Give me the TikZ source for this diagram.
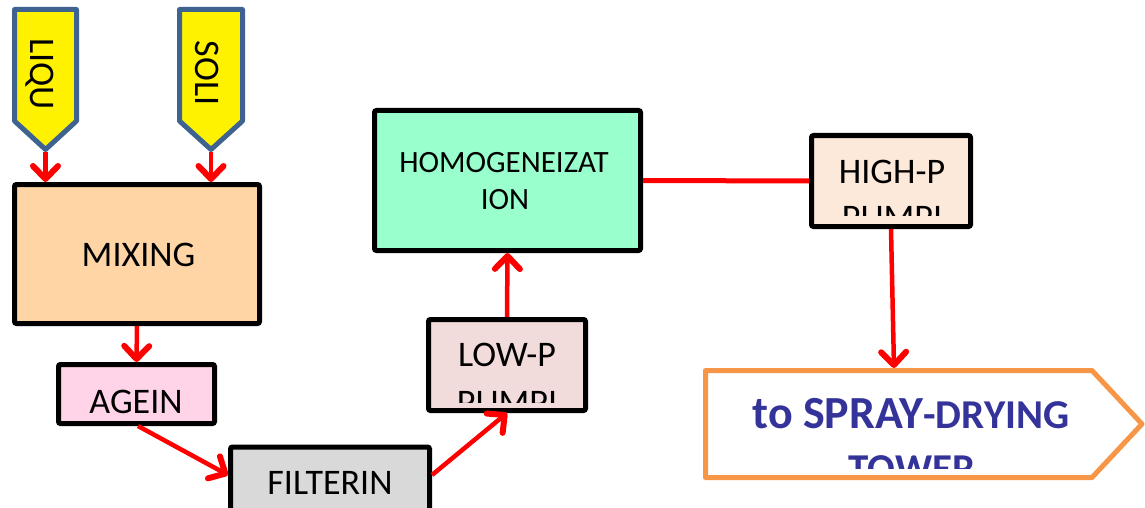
\documentclass[tikz,border=0pt]{standalone}
\usepackage{fontspec}
\setmainfont{Carlito}
\usetikzlibrary{arrows.meta,calc}
\definecolor{feedblue}{HTML}{3F6391}
\definecolor{mixfill}{HTML}{FFD5A6}
\definecolor{agefill}{HTML}{FFD4E9}
\definecolor{filtfill}{HTML}{D9D9D9}
\definecolor{lowfill}{HTML}{F2DCDB}
\definecolor{homfill}{HTML}{99FFCC}
\definecolor{highfill}{HTML}{FDE9D9}
\definecolor{sprayline}{HTML}{F79646}
\definecolor{spraytext}{HTML}{333399}
\definecolor{flowred}{HTML}{FF0000}
\begin{document}
\begin{tikzpicture}[x=1pt,y=-1pt,
  box/.style={draw=black, line width=5pt, rounded corners=2pt, inner sep=0pt},
  flow/.style={draw=flowred, line width=4.5pt, -{Straight Barb[length=13pt,width=25pt,line width=6pt 0,round]}},
  plainflow/.style={draw=flowred, line width=5pt},
  lbl/.style={inner sep=0pt, anchor=base, font=\fontsize{36}{42}\selectfont},
  homlbl/.style={inner sep=0pt, anchor=base, font=\fontsize{31}{37}\selectfont},
  feed/.style={draw=feedblue, fill=yellow, line width=5pt, line join=round},
  spraybox/.style={draw=sprayline, fill=white, line width=5pt, line join=round},
  spraylbl/.style={inner sep=0pt, anchor=base, text=spraytext, font=\bfseries}]
\useasboundingbox (0,0) rectangle (1145,508);

% feeds
\draw[feed] (14.5,9.5) -- (76.5,9.5) -- (76.5,121) -- (45.5,149.5) -- (14.5,121) -- cycle;
\draw[feed] (179.5,9.5) -- (242.5,9.5) -- (242.5,121) -- (211,149.5) -- (179.5,121) -- cycle;
\coordinate (liqtip) at (45.5,152);
\coordinate (soltip) at (211,152);
\node[lbl, rotate=-90] (liqtxt) at (30,74) {LIQU};
\node[lbl, rotate=-90] (soltxt) at (195,73) {SOLI};

% boxes
\node[box, fill=mixfill, minimum width=245pt, minimum height=139pt] (mix) at (137,254) {};
\node[box, fill=agefill, minimum width=156pt, minimum height=59pt] (agein) at (136.5,394) {};
\node[box, fill=filtfill, minimum width=199pt, minimum height=64pt] (filt) at (330,479) {};
\node[box, fill=lowfill, minimum width=157pt, minimum height=91pt] (lowp) at (507,365) {};
\node[box, fill=homfill, minimum width=266pt, minimum height=140pt] (homog) at (507.5,180.5) {};
\node[box, fill=highfill, minimum width=159pt, minimum height=91pt] (highp) at (891,181) {};

% labels
\node[lbl] (mixtxt) at (138.5,266) {MIXING};
\node[lbl] (agetxt) at (136,413) {AGEIN};
\node[lbl] (filttxt) at (330,494) {FILTERIN};
\node[lbl] (lowtxt) at (507,366) {LOW-P};
\node[lbl] (hightxt) at (892,183) {HIGH-P};
\node[homlbl] (homtxta) at (504,172) {HOMOGENEIZAT};
\node[homlbl] (homtxtb) at (505,209) {ION};
\begin{scope}
  \clip ($(lowp.north west)+(4,4)$) rectangle ($(lowp.south east)+(-4,-11)$);
  \node[lbl] (lowtxtb) at (507,414) {PUMPI};
\end{scope}
\begin{scope}
  \clip ($(highp.north west)+(4,4)$) rectangle ($(highp.south east)+(-4,-14)$);
  \node[lbl] (hightxtb) at (892,229) {PUMPI};
\end{scope}

% spray tower
\draw[spraybox] (705.5,370.5) -- (1092,370.5) -- (1142,424) -- (1092,477.5) -- (705.5,477.5) -- cycle;
\coordinate (spraytop) at (894,368);
\node[spraylbl] (spraytxt) at (911,428) {\fontsize{46}{52}\selectfont to SPRAY\fontsize{41}{48}\selectfont -DRYING};
\begin{scope}
  \clip (708,373) rectangle (1090,468);
  \node[spraylbl, font=\bfseries\fontsize{41}{48}\selectfont] (towertxt) at (912,482) {TOWER};
\end{scope}

% connectors
\draw[flow] (liqtip) -- (liqtip |- mix.north);
\draw[flow] (soltip) -- (soltip |- mix.north);
\draw[flow] (mix.south) -- (agein.north);
\draw[flow] ([xshift=1.5pt]agein.south) -- ([yshift=4pt]filt.west);
\draw[flow] ([yshift=4pt]filt.east) -- (lowp.south);
\draw[flow] (lowp.north) -- (homog.south);
\draw[plainflow] (homog.east) -- (highp.west);
\draw[flow] (highp.south) -- (spraytop);
\end{tikzpicture}
\end{document}
